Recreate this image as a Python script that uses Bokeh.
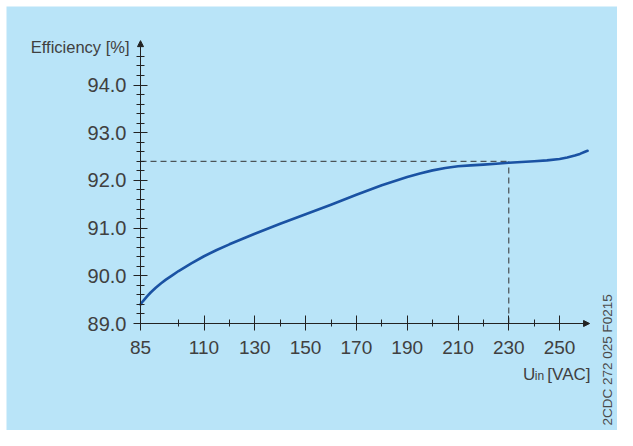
import math
from bokeh.plotting import figure
from bokeh.models import (FixedTicker, PrintfTickFormatter, Range1d, Arrow,
                          NormalHead, Label, BoxAnnotation)
from bokeh.embed import file_html
from bokeh.resources import INLINE

# ---- data ----
u_in = [85, 86, 87.5, 89, 91, 93, 95, 97.5, 100, 105, 110, 115, 120, 125,
        130, 140, 150, 160, 170, 180, 190, 195, 200, 205, 210, 215, 220,
        225, 230, 235, 240, 245, 250, 253, 256, 258, 260, 261]
efficiency = [89.40, 89.47, 89.565, 89.65, 89.75, 89.84, 89.92, 90.01, 90.10,
              90.26, 90.41, 90.54, 90.66, 90.77, 90.88, 91.09, 91.29, 91.49,
              91.70, 91.90, 92.07, 92.145, 92.21, 92.26, 92.295, 92.315,
              92.33, 92.35, 92.37, 92.385, 92.40, 92.42, 92.45, 92.48, 92.52,
              92.555, 92.60, 92.62]

x_major_ticks = [85, 110, 130, 150, 170, 190, 210, 230, 250]
x_minor_ticks = [100, 120, 140, 160, 180, 200, 220, 240]
y_major_ticks = [89.0, 90.0, 91.0, 92.0, 93.0, 94.0]
y_minor_ticks = [89.2, 89.4, 89.6, 89.8, 90.2, 90.4, 90.6, 90.8,
                 91.2, 91.4, 91.6, 91.8, 92.2, 92.4, 92.6, 92.8,
                 93.2, 93.4, 93.6, 93.8, 94.2, 94.4, 94.6]

ref_u = 230
ref_eff = 92.4

y_title = "Efficiency [%]"
x_title_main = "U"
x_title_sub = "in"
x_title_unit = "[VAC]"
code_label = "2CDC 272 025 F0215"

BG = "#b9e4f8"
INK = "#222222"
TXT = "#404040"
FONT = "Liberation Sans"

# ---- layout (canvas pixels) ----
W, H = 617, 430
X_ORIGIN, Y_ORIGIN = 85, 89.0          # axis crossing in data units
ORIGIN_PX, ORIGIN_PY = 140, 323        # where the crossing sits on the canvas
PXU, PYU = 2.54, 47.7                  # pixels per data unit

x_start = X_ORIGIN - ORIGIN_PX / PXU
x_end = x_start + W / PXU
y_end = Y_ORIGIN + ORIGIN_PY / PYU
y_start = y_end - H / PYU


def dx(px):
    return x_start + px / PXU


def dy(py):
    return y_end - py / PYU


p = figure(width=W, height=H,
           x_range=Range1d(x_start, x_end), y_range=Range1d(y_start, y_end),
           min_border=0, output_backend="svg", toolbar_location=None)
p.min_border_left = 0
p.min_border_right = 0
p.min_border_top = 0
p.min_border_bottom = 0

p.background_fill_color = "white"
p.border_fill_color = "white"
p.outline_line_color = None
p.grid.visible = False

# light-blue panel with thin white margin at top/left
p.add_layout(BoxAnnotation(left=dx(6), top=dy(6), fill_color=BG, fill_alpha=1.0,
                           line_color=None, level="underlay"))

# axes placed at the crossing point
xa = p.xaxis[0]
xa.fixed_location = Y_ORIGIN
xa.ticker = FixedTicker(ticks=x_major_ticks, minor_ticks=x_minor_ticks)
xa.axis_line_color = None
xa.major_tick_in = 8
xa.major_tick_out = 7
xa.minor_tick_in = 4
xa.minor_tick_out = 3
xa.major_tick_line_color = INK
xa.minor_tick_line_color = INK
xa.major_label_text_font = FONT
xa.major_label_text_font_size = "19px"
xa.major_label_text_color = TXT
xa.major_label_standoff = 10

ya = p.yaxis[0]
ya.fixed_location = X_ORIGIN
ya.ticker = FixedTicker(ticks=y_major_ticks, minor_ticks=y_minor_ticks)
ya.formatter = PrintfTickFormatter(format="%.1f")
ya.axis_line_color = None
ya.major_tick_in = 7
ya.major_tick_out = 7
ya.minor_tick_in = 4
ya.minor_tick_out = 4
ya.major_tick_line_color = INK
ya.minor_tick_line_color = INK
ya.major_label_text_font = FONT
ya.major_label_text_font_size = "20px"
ya.major_label_text_color = TXT
ya.major_label_standoff = 7

# axis lines with arrow heads
x_tip = 261.8
y_tip = 94.93
p.add_layout(Arrow(end=NormalHead(size=6, fill_color=INK, line_color=INK, line_width=1),
                   x_start=X_ORIGIN, y_start=Y_ORIGIN, x_end=x_tip, y_end=Y_ORIGIN,
                   line_color=INK, line_width=1))
p.add_layout(Arrow(end=NormalHead(size=6, fill_color=INK, line_color=INK, line_width=1),
                   x_start=X_ORIGIN, y_start=Y_ORIGIN, x_end=X_ORIGIN, y_end=y_tip,
                   line_color=INK, line_width=1))

# reference dashed lines
p.line([X_ORIGIN, ref_u], [ref_eff, ref_eff], line_color="#333333", line_width=1, line_dash="6 4")
p.line([ref_u, ref_u], [Y_ORIGIN, ref_eff], line_color="#333333", line_width=1, line_dash="6 4")

# efficiency curve
p.line(u_in, efficiency, line_color="#1a52a3", line_width=2.6, line_join="round", line_cap="round")

# texts
p.add_layout(Label(x=dx(129), y=dy(46.5), text=y_title, text_align="right",
                   text_baseline="alphabetic", text_font=FONT,
                   text_font_size="16.5px", text_color=TXT))
p.add_layout(Label(x=dx(522.5), y=dy(374), text=x_title_main, text_align="left",
                   text_baseline="alphabetic", text_font=FONT,
                   text_font_size="17px", text_color=TXT))
p.add_layout(Label(x=dx(534.3), y=dy(375.8), text=x_title_sub, text_align="left",
                   text_baseline="alphabetic", text_font=FONT,
                   text_font_size="12px", text_color=TXT))
p.add_layout(Label(x=dx(590), y=dy(374), text=x_title_unit, text_align="right",
                   text_baseline="alphabetic", text_font=FONT,
                   text_font_size="17px", text_color=TXT))
p.add_layout(Label(x=dx(607), y=dy(425), text=code_label, text_align="left",
                   text_baseline="middle", angle=math.pi / 2, angle_units="rad",
                   text_font=FONT, text_font_size="13.5px", text_color="#4a4a4a"))

open("out.html", "w").write(file_html(p, INLINE))
